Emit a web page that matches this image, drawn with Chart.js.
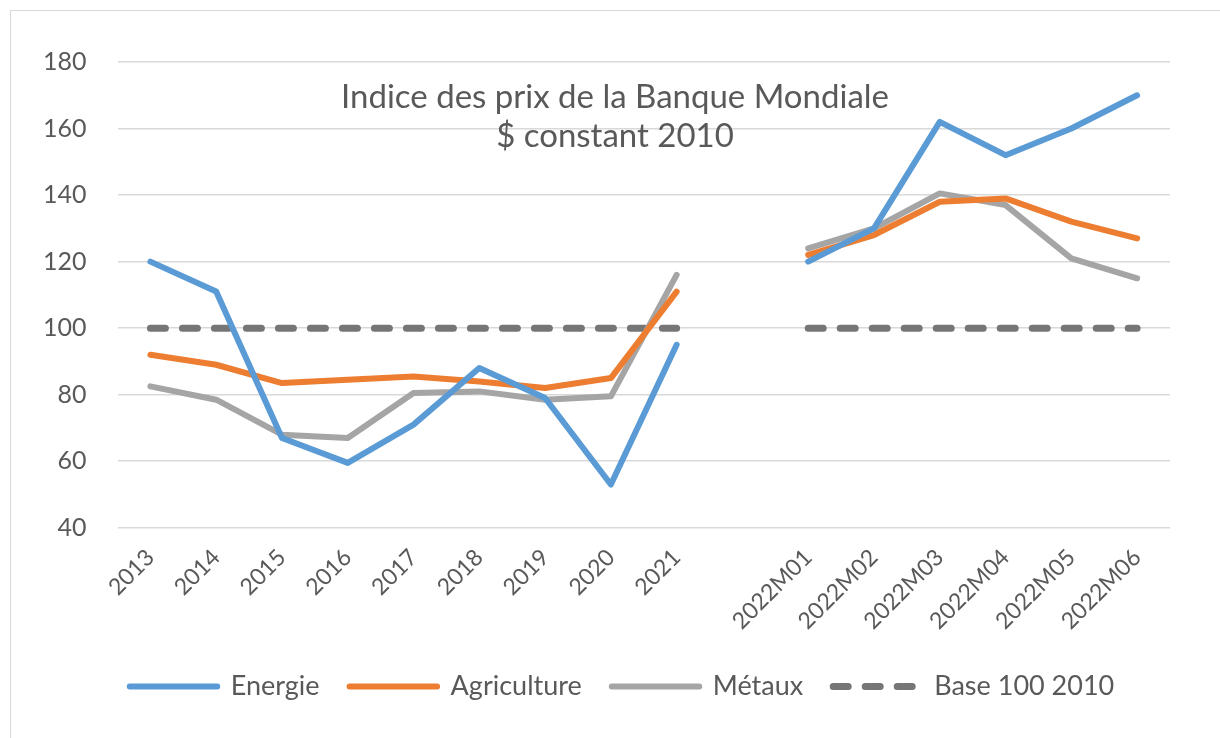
<!DOCTYPE html>
<html>
<head>
<meta charset="utf-8">
<script src="https://cdn.jsdelivr.net/npm/chart.js@4"></script>
<style>
    body { margin: 0; background: #fff; }
    #frame { position: absolute; left: 10px; top: 10px; width: 1210px; height: 728px; border-left: 1px solid #d9d9d9; border-top: 1px solid #d9d9d9; }
    canvas { position: absolute; left: -11px; top: -11px; }
</style>
</head>
<body>
<div id="frame"><canvas id="chart" width="1220" height="738"></canvas></div>
<script>
// Data
const categories = ['2013', '2014', '2015', '2016', '2017', '2018', '2019', '2020', '2021', '',
    '2022M01', '2022M02', '2022M03', '2022M04', '2022M05', '2022M06'];
const energie = [120, 111, 67, 59.5, 71, 88, 79, 53, 95, null, 120, 130, 162, 152, 160, 170];
const agriculture = [92, 89, 83.5, 84.5, 85.5, 84, 82, 85, 111, null, 122, 128, 138, 139, 132, 127];
const metaux = [82.5, 78.5, 68, 67, 80.5, 81, 78.5, 79.5, 116, null, 124, 130, 140.5, 137, 121, 115];
const base = [100, 100, 100, 100, 100, 100, 100, 100, 100, null, 100, 100, 100, 100, 100, 100];
const yTicks = [40, 60, 80, 100, 120, 140, 160, 180];
const titleLines = ['Indice des prix de la Banque Mondiale', '$ constant 2010'];

const textColor = '#595959';
const fontFamily = 'Lato, "Open Sans", sans-serif';

// title drawn inside the plot area
const innerTitle = {
    id: 'innerTitle',
    afterDraw(chart) {
        const { ctx, chartArea } = chart;
        ctx.save();
        ctx.fillStyle = textColor;
        ctx.font = '33px ' + fontFamily;
        ctx.textAlign = 'center';
        ctx.textBaseline = 'middle';
        const cx = 615;
        titleLines.forEach((line, i) => ctx.fillText(line, cx, chartArea.top + 35 + i * 39));
        ctx.restore();
    }
};

// legend sits a bit right of the layout centre
const legendShift = {
    id: 'legendShift',
    afterLayout(chart) {
        chart.legend.left += 31;
        chart.legend.right += 31;
    }
};

function series(label, data, color, dash) {
    return {
        label: label,
        data: data,
        borderColor: color,
        backgroundColor: color,
        borderWidth: dash ? 7 : 6,
        borderDash: dash || [],
        borderCapStyle: 'round',
        borderJoinStyle: 'round',
        pointRadius: 0,
        pointHoverRadius: 0,
        tension: 0,
        spanGaps: false,
        fill: false
    };
}

new Chart(document.getElementById('chart'), {
    type: 'line',
    data: {
        labels: categories,
        datasets: [
            series('Energie', energie, '#5b9bd5'),
            series('Agriculture', agriculture, '#ed7d31'),
            series('Métaux', metaux, '#a5a5a5'),
            series('Base 100 2010', base, '#767676', [15, 17])
        ]
    },
    options: {
        responsive: false,
        animation: false,
        layout: { padding: { left: 12, right: 50, top: 62, bottom: 28 } },
        scales: {
            x: {
                grid: { display: false },
                border: { display: false },
                offset: true,
                ticks: {
                    color: textColor,
                    font: { size: 23, family: fontFamily },
                    minRotation: 45,
                    maxRotation: 45,
                    autoSkip: false,
                    padding: 8
                }
            },
            y: {
                min: 40,
                max: 180,
                afterBuildTicks(axis) {
                    axis.ticks = yTicks.map(v => ({ value: v }));
                },
                grid: { color: '#d9d9d9', lineWidth: 1.5, drawTicks: false },
                border: { display: false },
                ticks: {
                    color: textColor,
                    font: { size: 25, family: fontFamily },
                    padding: 31
                }
            }
        },
        plugins: {
            legend: {
                position: 'bottom',
                labels: {
                    color: textColor,
                    font: { size: 27, family: fontFamily },
                    boxWidth: 87.5,
                    boxHeight: 0,
                    padding: 30
                }
            },
            title: { display: false },
            tooltip: { enabled: false }
        }
    },
    plugins: [innerTitle, legendShift]
});
</script>
</body>
</html>
